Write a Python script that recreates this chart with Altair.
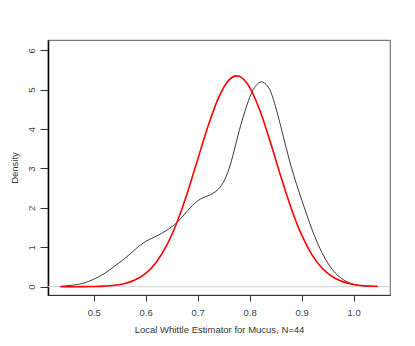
import altair as alt
import pandas as pd

# Kernel density (black)
kde_x = [0.436, 0.46, 0.48, 0.50, 0.52, 0.54, 0.56, 0.58, 0.60, 0.62, 0.64, 0.66,
         0.68, 0.70, 0.72, 0.74, 0.76, 0.78, 0.80, 0.812, 0.823, 0.835, 0.845, 0.86, 0.88,
         0.90, 0.92, 0.94, 0.96, 0.98, 1.00, 1.02, 1.046]
kde_y = [0.01, 0.04, 0.09, 0.19, 0.33, 0.52, 0.72, 0.95, 1.15, 1.28, 1.43, 1.63,
         1.92, 2.18, 2.31, 2.48, 2.98, 3.96, 4.80, 5.10, 5.20, 5.08, 4.78, 4.06, 3.04,
         2.21, 1.45, 0.84, 0.42, 0.18, 0.06, 0.02, 0.005]

# Normal density (red)
norm_x = [0.436, 0.46, 0.48, 0.50, 0.52, 0.54, 0.56, 0.58, 0.60, 0.62, 0.64, 0.66,
          0.68, 0.70, 0.72, 0.74, 0.76, 0.775, 0.78, 0.80, 0.82, 0.84, 0.86, 0.88,
          0.90, 0.92, 0.94, 0.96, 0.98, 1.00, 1.02, 1.046]
norm_y = [0.0001, 0.0007, 0.002, 0.006, 0.016, 0.037, 0.084, 0.176, 0.341, 0.617,
          1.041, 1.631, 2.378, 3.229, 4.077, 4.793, 5.243, 5.35, 5.338, 5.058,
          4.460, 3.661, 2.796, 1.986, 1.314, 0.809, 0.463, 0.247, 0.123, 0.057,
          0.024, 0.008]

x_ticks = [0.5, 0.6, 0.7, 0.8, 0.9, 1.0]
y_ticks = [0, 1, 2, 3, 4, 5, 6]

kde = pd.DataFrame({"x": kde_x, "y": kde_y})
nrm = pd.DataFrame({"x": norm_x, "y": norm_y})
zero = pd.DataFrame({"y": [0]})

FONT = "Liberation Sans"

xs = alt.Scale(domain=[0.412, 1.070], nice=False, zero=False)
ys = alt.Scale(domain=[-0.21, 6.26], nice=False, zero=False)

xaxis = alt.Axis(values=x_ticks, format=".1f", title="Local Whittle Estimator for Mucus, N=44",
                 grid=False, domain=True, domainColor="#333", tickColor="#333", tickSize=6,
                 labelFont=FONT, labelFontSize=9.5, labelColor="#444", labelPadding=6,
                 titleFont=FONT, titleFontSize=9.5, titleFontWeight="normal", titleColor="#333",
                 titlePadding=8)
yaxis = alt.Axis(values=y_ticks, format="d", title="Density",
                 grid=False, domain=True, domainColor="#000", domainWidth=1.5,
                 tickColor="#333", tickSize=8,
                 labelFont=FONT, labelFontSize=9.5, labelColor="#444", labelAngle=270,
                 labelAlign="center", labelBaseline="bottom", labelPadding=4,
                 titleFont=FONT, titleFontSize=9.5, titleFontWeight="normal", titleColor="#333",
                 titlePadding=7)

base_rule = alt.Chart(zero).mark_rule(color="#cccccc", strokeWidth=1).encode(
    y=alt.Y("y:Q", scale=ys, axis=yaxis)
)

black = alt.Chart(kde).mark_line(color="#222222", strokeWidth=0.9, interpolate="natural").encode(
    x=alt.X("x:Q", scale=xs, axis=xaxis),
    y=alt.Y("y:Q", scale=ys, axis=yaxis),
)

red = alt.Chart(nrm).mark_line(color="#ff0000", strokeWidth=1.6, interpolate="monotone").encode(
    x=alt.X("x:Q", scale=xs, axis=xaxis),
    y=alt.Y("y:Q", scale=ys, axis=yaxis),
)

chart = alt.layer(base_rule, black, red).properties(
    width=342, height=255,
    autosize=alt.AutoSizeParams(type="none"),
    padding={"left": 40, "top": 32, "right": 17, "bottom": 43},
    background="white",
).configure_view(stroke="#777777", strokeWidth=1.2)

chart.save("out.html", embed_options={"renderer": "svg", "actions": False})
